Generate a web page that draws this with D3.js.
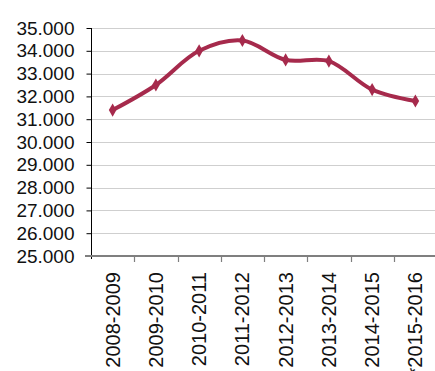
<!DOCTYPE html>
<html>
<head>
<meta charset="utf-8">
<script src="https://cdn.jsdelivr.net/npm/d3@7"></script>
<style>
  body { margin: 0; background: #fff; }
  svg { display: block; }
</style>
</head>
<body>
<script>
var seasons = ["2008-2009", "2009-2010", "2010-2011", "2011-2012",
               "2012-2013", "2013-2014", "2014-2015", "*2015-2016"];
var values = [31400, 32500, 34000, 34450, 33600, 33550, 32300, 31800];
var yTicks = [25000, 26000, 27000, 28000, 29000, 30000, 31000, 32000,
              33000, 34000, 35000];

var width = 435;
var height = 371;
var plotLeft = 91, plotRight = 437, plotTop = 28, plotBottom = 256;
var lineColor = "#a62a4c";
var font = "'Liberation Sans', Arial, sans-serif";

var svg = d3.select("body")
  .append("svg")
  .attr("width", width)
  .attr("height", height);

var x = d3.scaleBand()
  .domain(seasons)
  .range([plotLeft, plotRight]);

var y = d3.scaleLinear()
  .domain([25000, 35000])
  .range([plotBottom, plotTop]);

function yLabel(d) {
  var s = String(d);
  return s.slice(0, s.length - 3) + "." + s.slice(-3);
}

// gridlines
svg.selectAll("line.grid")
  .data(yTicks.slice(1))
  .enter()
  .append("line")
  .attr("class", "grid")
  .attr("x1", plotLeft)
  .attr("x2", width)
  .attr("y1", function(d) { return Math.round(y(d)) + 0.5; })
  .attr("y2", function(d) { return Math.round(y(d)) + 0.5; })
  .attr("stroke", "#cfcfcf")
  .attr("stroke-width", 1.2);

// y axis
var yAxis = svg.append("g")
  .attr("transform", "translate(" + (plotLeft + 0.5) + ",0)")
  .call(d3.axisLeft(y).tickValues(yTicks).tickFormat(yLabel).tickSize(5).tickPadding(12));
yAxis.select(".domain")
  .attr("d", "M0," + plotTop + "V" + (plotBottom + 3))
  .attr("stroke", "#000");
yAxis.selectAll(".tick line").attr("stroke", "#000");
yAxis.selectAll(".tick text")
  .attr("font-family", font)
  .attr("font-size", "19px")
  .attr("fill", "#111");

// x axis
var xAxis = svg.append("g")
  .attr("transform", "translate(0," + plotBottom + ")");
xAxis.append("line")
  .attr("x1", plotLeft - 6)
  .attr("x2", width)
  .attr("y1", 0)
  .attr("y2", 0)
  .attr("stroke", "#7f7f7f")
  .attr("stroke-width", 2);

svg.selectAll("line.xtick")
  .data(seasons.slice(1))
  .enter()
  .append("line")
  .attr("class", "xtick")
  .attr("x1", function(d) { return Math.round(x(d)) + 0.5; })
  .attr("x2", function(d) { return Math.round(x(d)) + 0.5; })
  .attr("y1", plotBottom)
  .attr("y2", plotBottom + 6)
  .attr("stroke", "#7f7f7f")
  .attr("stroke-width", 1.2);

svg.selectAll("text.xlabel")
  .data(seasons)
  .enter()
  .append("text")
  .attr("class", "xlabel")
  .text(function(d) { return d; })
  .attr("transform", function(d) {
    return "translate(" + (x(d) + x.bandwidth() / 2 + 7) + "," + (plotBottom + 16) + ") rotate(-90)";
  })
  .attr("text-anchor", "end")
  .attr("font-family", font)
  .attr("font-size", "20px")
  .attr("fill", "#111");

// line
var line = d3.line()
  .x(function(d, i) { return x(seasons[i]) + x.bandwidth() / 2; })
  .y(function(d) { return y(d); })
  .curve(d3.curveCatmullRom.alpha(0.5));

svg.append("path")
  .datum(values)
  .attr("d", line)
  .attr("fill", "none")
  .attr("stroke", lineColor)
  .attr("stroke-width", 4)
  .attr("stroke-linejoin", "round");

svg.selectAll("path.marker")
  .data(values)
  .enter()
  .append("path")
  .attr("class", "marker")
  .attr("d", d3.symbol().type(d3.symbolDiamond).size(50))
  .attr("transform", function(d, i) {
    return "translate(" + (x(seasons[i]) + x.bandwidth() / 2) + "," + y(d) + ")";
  })
  .attr("fill", lineColor);
</script>
</body>
</html>
